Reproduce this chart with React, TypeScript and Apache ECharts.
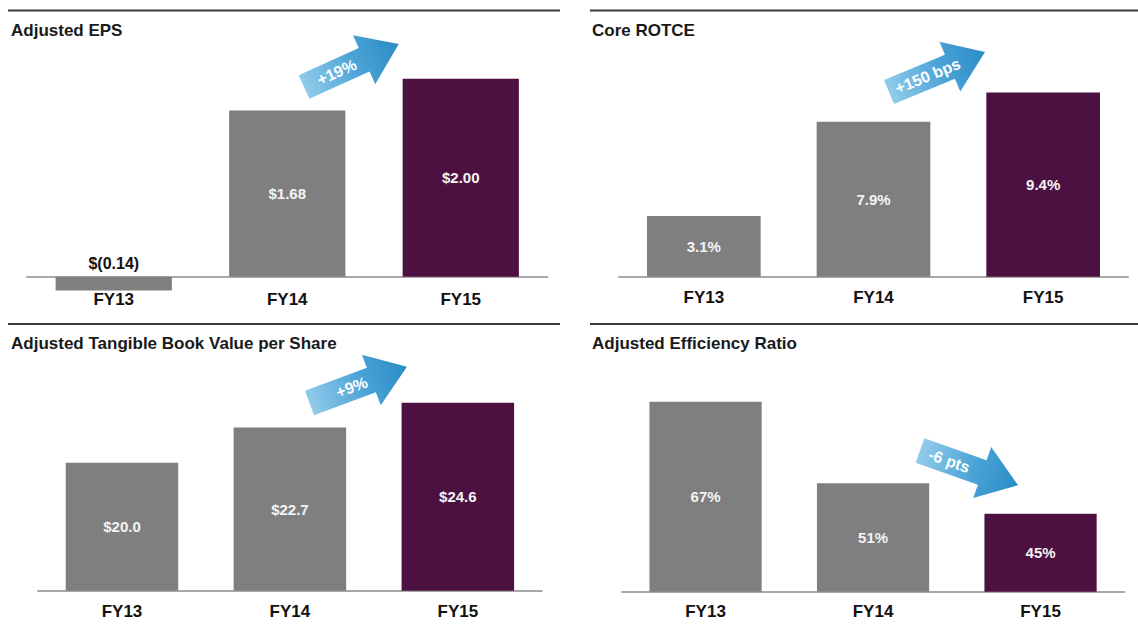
import React, { useEffect, useRef } from "react";
import * as echarts from "echarts";

// ---- data ----
const categories = ["FY13", "FY14", "FY15"];
const epsValues = [-0.14, 1.68, 2.0];
const rotceValues = [3.1, 7.9, 9.4];
const tbvValues = [20.0, 22.7, 24.6];
const efficiencyValues = [67, 51, 45];
const panelTitles = [
  "Adjusted EPS",
  "Core ROTCE",
  "Adjusted Tangible Book Value per Share",
  "Adjusted Efficiency Ratio",
];
const arrowLabels = ["+19%", "+150 bps", "+9%", "-6 pts"];

// ---- styles / layout ----
const FONT = '"Liberation Sans", Arial, Helvetica, sans-serif';
const GRAY = "#7f7f7f";
const PURPLE = "#4c1140";

const fmtEps = (v: number) =>
  v < 0 ? `$(${Math.abs(v).toFixed(2)})` : `$${v.toFixed(2)}`;
const fmtPct1 = (v: number) => `${v.toFixed(1)}%`;
const fmtDollar1 = (v: number) => `$${v.toFixed(1)}`;
const fmtPct0 = (v: number) => `${v.toFixed(0)}%`;

const panels = [
  { values: epsValues, fmt: fmtEps, left: 27, top: 39.1, width: 520.5, height: 237.6, min: 0, max: 2.4, margin: 14, clip: false },
  { values: rotceValues, fmt: fmtPct1, left: 619, top: 41.5, width: 509, height: 235.2, min: 0, max: 12, margin: 12, clip: true },
  { values: tbvValues, fmt: fmtDollar1, left: 38, top: 358.4, width: 503.8, height: 232.3, min: 10.2, max: 28, margin: 12, clip: true },
  { values: efficiencyValues, fmt: fmtPct0, left: 621.8, top: 361.1, width: 502.5, height: 230.6, min: 29.7, max: 75, margin: 11, clip: true },
];

const ruleLines = [
  { x1: 8, x2: 560, y: 10.5 },
  { x1: 590, x2: 1138, y: 10.5 },
  { x1: 8, x2: 560, y: 324 },
  { x1: 590, x2: 1138, y: 324 },
];
const titlePos = [
  { x: 11, y: 30 },
  { x: 592, y: 30 },
  { x: 11, y: 343 },
  { x: 592, y: 343 },
];
// arrow: tail-middle position, angle (deg, CCW), text position along arrow
const arrows = [
  { x: 304, y: 87, angle: 24.4, tx: 36 },
  { x: 889, y: 92, angle: 22.6, tx: 42 },
  { x: 309.5, y: 403, angle: 20.4, tx: 45 },
  { x: 920, y: 450.5, angle: -19.5, tx: 31 },
];
const SHAFT_LEN = 66;
const SHAFT_T = 26;
const HEAD_W = 54;
const TOTAL_LEN = 104;

function buildOption() {
  const grid = panels.map((p) => ({
    left: p.left,
    top: p.top,
    width: p.width,
    height: p.height,
    containLabel: false,
  }));
  const xAxis = panels.map((p, i) => ({
    type: "category",
    gridIndex: i,
    data: categories,
    axisTick: { show: false },
    axisLine: { onZero: true, lineStyle: { color: "#a8a8a8", width: 2 } },
    axisLabel: {
      color: "#111",
      fontWeight: "bold",
      fontSize: 17,
      fontFamily: FONT,
      margin: p.margin,
    },
    splitLine: { show: false },
  }));
  const yAxis = panels.map((p, i) => ({
    type: "value",
    gridIndex: i,
    min: p.min,
    max: p.max,
    show: false,
    splitLine: { show: false },
  }));
  const series = panels.map((p, i) => ({
    type: "bar",
    xAxisIndex: i,
    yAxisIndex: i,
    barCategoryGap: "33%",
    clip: p.clip,
    z: 1,
    data: p.values.map((v) =>
      v < 0
        ? { value: v, label: { position: "top", color: "#111", fontSize: 16, distance: 5 } }
        : v
    ),
    itemStyle: {
      color: (params: any) => (params.dataIndex === 2 ? PURPLE : GRAY),
    },
    label: {
      show: true,
      position: "inside",
      color: "#f4f4f4",
      fontWeight: "bold",
      fontSize: 15,
      fontFamily: FONT,
      formatter: (params: any) => p.fmt(Number(params.value)),
    },
  }));

  const graphic: any[] = [];
  ruleLines.forEach((r) => {
    graphic.push({
      type: "line",
      shape: { x1: r.x1, y1: r.y, x2: r.x2, y2: r.y },
      style: { stroke: "#3c3c3c", lineWidth: 2 },
      silent: true,
    });
  });
  panelTitles.forEach((t, i) => {
    graphic.push({
      type: "text",
      x: titlePos[i].x,
      y: titlePos[i].y,
      style: {
        text: t,
        fill: "#1a1a1a",
        font: `bold 17px ${FONT}`,
        align: "left",
        verticalAlign: "middle",
      },
      silent: true,
    });
  });
  arrows.forEach((a, i) => {
    const t = SHAFT_T / 2;
    const h = HEAD_W / 2;
    graphic.push({
      type: "group",
      x: a.x,
      y: a.y,
      rotation: (a.angle * Math.PI) / 180,
      silent: true,
      children: [
        {
          type: "polygon",
          shape: {
            points: [
              [0, -t],
              [SHAFT_LEN, -t],
              [SHAFT_LEN, -h],
              [TOTAL_LEN, 0],
              [SHAFT_LEN, h],
              [SHAFT_LEN, t],
              [0, t],
            ],
          },
          style: {
            fill: {
              type: "linear",
              x: 0,
              y: 0,
              x2: 1,
              y2: 0,
              colorStops: [
                { offset: 0, color: "#92cbea" },
                { offset: 0.55, color: "#4aa3d6" },
                { offset: 1, color: "#2b8cc6" },
              ],
            },
          },
        },
        {
          type: "text",
          x: a.tx,
          y: 0,
          style: {
            text: arrowLabels[i],
            fill: "#ffffff",
            font: `bold 16px ${FONT}`,
            align: "center",
            verticalAlign: "middle",
          },
        },
      ],
    });
  });

  return {
    animation: false,
    backgroundColor: "#ffffff",
    grid,
    xAxis,
    yAxis,
    series,
    graphic,
  };
}

export default function App() {
  const ref = useRef<HTMLDivElement>(null);
  useEffect(() => {
    if (!ref.current) return;
    const chart = echarts.init(ref.current, undefined, { renderer: "svg" });
    chart.setOption(buildOption() as any);
    return () => chart.dispose();
  }, []);
  return (
    <div
      ref={ref}
      style={{ position: "absolute", left: 0, top: 0, width: 1138, height: 632, background: "#fff" }}
    />
  );
}
